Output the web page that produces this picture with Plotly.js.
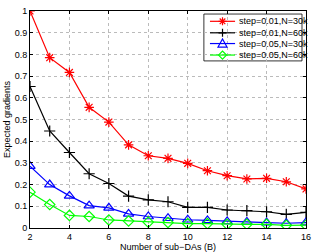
<!DOCTYPE html>
<html><head><meta charset="utf-8">
<script src="https://cdn.plot.ly/plotly-3.0.1.min.js"></script>
<style>html,body{margin:0;padding:0;background:#fff}#c{width:316px;height:252px}</style>
</head><body><div id="c"></div>
<script>
const xB = [2,3,4,5,6,7,8,9,10,11,12,13,14,15,16];
const s1 = [1.0,0.785,0.717,0.556,0.488,0.383,0.333,0.321,0.298,0.264,0.241,0.226,0.229,0.213,0.180];
const s2 = [0.652,0.447,0.348,0.250,0.205,0.147,0.130,0.121,0.095,0.095,0.083,0.080,0.075,0.063,0.072];
const s3 = [0.285,0.200,0.148,0.103,0.093,0.065,0.053,0.045,0.038,0.035,0.030,0.028,0.025,0.022,0.025];
const s4 = [0.165,0.108,0.058,0.053,0.037,0.032,0.027,0.025,0.020,0.020,0.017,0.017,0.017,0.012,0.013];
const names = ['step=0.01,N=30k','step=0.01,N=60k','step=0.05,N=30k','step=0.05,N=60k'];
const yTicks = [0,0.1,0.2,0.3,0.4,0.5,0.6,0.7,0.8,0.9,1];
const yTickText = ['0','0.1','0.2','0.3','0.4','0.5','0.6','0.7','0.8','0.9','1'];
const xTicks = [2,4,6,8,10,12,14,16];

const colors = ['#ff0000','#000000','#0000ff','#00ff00'];
const symbols = ['asterisk-open','cross-thin-open','triangle-up-open','diamond-open'];
const sizes = [8,8,9,8];
const legendPaths = [
  'M-4,0L4,0M0,-4L0,4M-2.8,-2.8L2.8,2.8M-2.8,2.8L2.8,-2.8',
  'M-4,0L4,0M0,-4L0,4',
  'M-4.5,-3.5L4.5,-3.5L0,4.5Z',
  'M-4,0L0,4L4,0L0,-4Z'
];
const data = [s1,s2,s3,s4].map((ys,i)=>({
  x: xB, y: ys, name: names[i], type:'scatter', mode:'lines+markers', showlegend:false,
  line:{color:colors[i], width:1.2},
  marker:{symbol:symbols[i], size:sizes[i], color:colors[i], line:{color:colors[i], width:1.2}}
}));
const font = {family:'Liberation Sans, Arial, sans-serif', size:9, color:'#000'};

// custom compact legend (paper coordinates)
const rowY = [0.9525, 0.8995, 0.850, 0.797];
const shapes = [{type:'rect', xref:'paper', yref:'paper', x0:0.630, x1:0.9855, y0:0.770, y1:0.986,
  line:{color:'#000', width:0.8}, fillcolor:'#fff', layer:'below'}];
const annotations = [];
names.forEach((n,i)=>{
  shapes.push({type:'line', xref:'paper', yref:'paper', x0:0.652, x1:0.743, y0:rowY[i], y1:rowY[i],
    line:{color:colors[i], width:1.2}, layer:'above'});
  shapes.push({type:'path', xref:'paper', yref:'paper', xsizemode:'pixel', ysizemode:'pixel',
    xanchor:0.6975, yanchor:rowY[i], path:legendPaths[i], line:{color:colors[i], width:1.2},
    fillcolor: i===0 ? colors[i] : 'rgba(0,0,0,0)', layer:'above'});
  annotations.push({xref:'paper', yref:'paper', x:0.7536, y:rowY[i], xanchor:'left', yanchor:'middle',
    text:n, showarrow:false, font:font, borderpad:0});
});

const layout = {
  width:316, height:252,
  margin:{l:30,r:10,t:11,b:24},
  paper_bgcolor:'#fff', plot_bgcolor:'#fff',
  font: font,
  showlegend:false,
  shapes: shapes, annotations: annotations,
  xaxis:{range:[2,16], tickvals:xTicks, showgrid:true, gridcolor:'#bbb', griddash:'dot', gridwidth:1,
    showline:true, linecolor:'#000', linewidth:1, mirror:'ticks', ticks:'inside', ticklen:3, tickcolor:'#000',
    zeroline:false, tickfont:font, automargin:false,
    title:{text:'Number of sub\u2212DAs (B)', font:font, standoff:1}},
  yaxis:{range:[0,1], tickvals:yTicks, ticktext:yTickText, showgrid:true, gridcolor:'#bbb', griddash:'dot', gridwidth:1,
    showline:true, linecolor:'#000', linewidth:1, mirror:'ticks', ticks:'inside', ticklen:3, tickcolor:'#000',
    zeroline:false, tickfont:font, automargin:false,
    title:{text:'Expected gradients', font:font, standoff:2}}
};
Plotly.newPlot('c', data, layout, {staticPlot:true, displayModeBar:false});
</script></body></html>
